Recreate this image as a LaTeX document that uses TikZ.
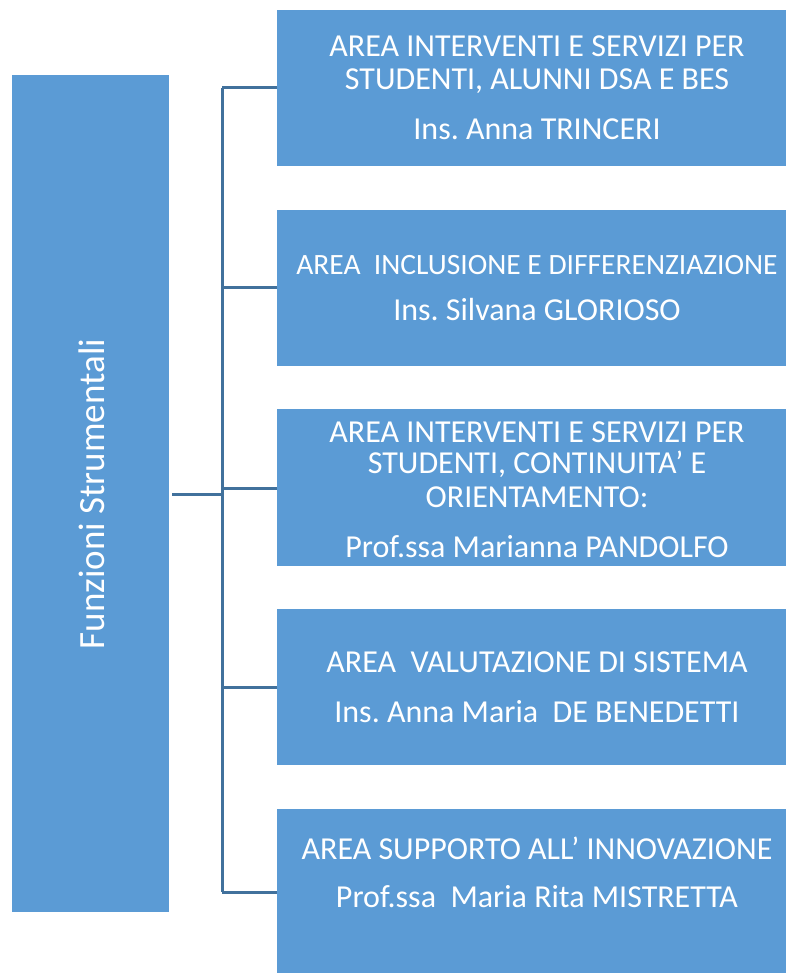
\documentclass[tikz,border=0pt]{standalone}
\usepackage{fontspec}
\setmainfont{Carlito}
\frenchspacing
\definecolor{boxblue}{HTML}{5B9BD5}
\definecolor{linkblue}{HTML}{41719C}
\begin{document}
\begin{tikzpicture}[x=1pt,y=-1pt,
  area/.style={fill=boxblue,draw=none,inner sep=0pt,anchor=north west},
  txt/.style={text=white,font=\fontsize{32}{36}\selectfont,inner sep=0pt,anchor=base},
  link/.style={draw=linkblue,line width=3pt}]
\useasboundingbox (0,0) rectangle (785,973);
\node[area,minimum width=157pt,minimum height=837pt] (main) at (12,75) {};
\node[text=white,font=\fontsize{37}{40}\selectfont,inner sep=0pt,rotate=90,anchor=center] (maint) at (92,494) {Funzioni Strumentali};
% right boxes
\node[area,minimum width=520pt,minimum height=156pt] (b1) at (277,10) {};
\node[area,minimum width=520pt,minimum height=156pt] (b2) at (277,210) {};
\node[area,minimum width=520pt,minimum height=157pt] (b3) at (277,409) {};
\node[area,minimum width=520pt,minimum height=156pt] (b4) at (277,609) {};
\node[area,minimum width=520pt,minimum height=170pt] (b5) at (277,809) {};
\node[txt] (t11) at (537,57) {AREA INTERVENTI E SERVIZI PER};
\node[txt] (t12) at (537,90) {STUDENTI, ALUNNI DSA E BES};
\node[txt] (t13) at (537,140) {Ins. Anna TRINCERI};
\node[txt,font=\fontsize{29.5}{33}\selectfont] (t21) at (537,274) {AREA\ \ INCLUSIONE E DIFFERENZIAZIONE};
\node[txt] (t22) at (537,320) {Ins. Silvana GLORIOSO};
\node[txt] (t31) at (537,442) {AREA INTERVENTI E SERVIZI PER};
\node[txt] (t32) at (537,473) {STUDENTI, CONTINUITA’ E};
\node[txt] (t33) at (537,507) {ORIENTAMENTO:};
\node[txt] (t34) at (537,557) {Prof.ssa Marianna PANDOLFO};
\node[txt] (t41) at (537,672) {AREA\ \ VALUTAZIONE DI SISTEMA};
\node[txt] (t42) at (537,722) {Ins. Anna Maria\ \ DE BENEDETTI};
\node[txt] (t51) at (537,859) {AREA SUPPORTO ALL’ INNOVAZIONE};
\node[txt] (t52) at (537,907) {Prof.ssa\ \ Maria Rita MISTRETTA};
% connectors
\coordinate (hub) at (222,494);
\coordinate (top) at (222,88);
\coordinate (bot) at (222,892);
\draw[link] (main.east |- hub) ++(3,0) -- (hub);
\draw[link] (top) -- (bot);
\draw[link] (top) -- (top -| b1.west);
\draw[link] (222,287) -- (222,287 -| b2.west);
\draw[link] (222,488) -- (222,488 -| b3.west);
\draw[link] (222,687) -- (222,687 -| b4.west);
\draw[link] (bot) -- (bot -| b5.west);
\end{tikzpicture}
\end{document}
